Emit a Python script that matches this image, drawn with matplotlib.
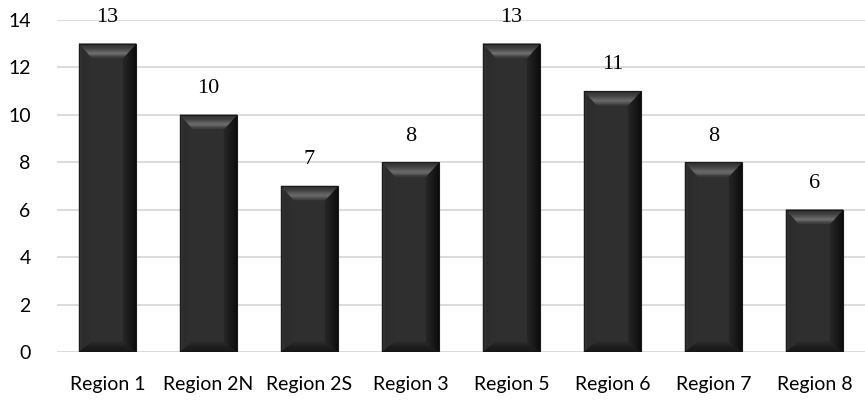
import numpy as np
import matplotlib
matplotlib.use('Agg')
import matplotlib.pyplot as plt
from matplotlib.patches import Polygon
from matplotlib.colors import to_rgb

regions = ['Region 1', 'Region 2N', 'Region 2S', 'Region 3', 'Region 5', 'Region 6', 'Region 7', 'Region 8']
counts = [13, 10, 7, 8, 13, 11, 8, 6]

fig = plt.figure(figsize=(8.65, 4), dpi=100)
ax = fig.add_axes([0.066, 0.12, 0.934, 0.83])

x = np.arange(len(regions))
bars = ax.bar(x, counts, width=0.565, color='#2f2f2f', zorder=2)

ax.set_xlim(-0.5, len(regions) - 0.5)
ax.set_ylim(0, 14)
ax.set_yticks(range(0, 15, 2))
ax.set_xticks(x)
ax.set_xticklabels(regions)
ax.yaxis.grid(True, color='#d9d9d9', linewidth=1.3, zorder=0)
ax.set_axisbelow(True)
for s in ax.spines.values():
    s.set_visible(False)
ax.tick_params(length=0, labelsize=14, colors='#000000')
ax.tick_params(axis='x', pad=17)
ax.tick_params(axis='y', pad=19)
for lab in ax.get_xticklabels() + ax.get_yticklabels():
    lab.set_family('Lato')


def lerp(p, q, t):
    return (p[0] + (q[0] - p[0]) * t, p[1] + (q[1] - p[1]) * t)


def bevel(o1, o2, i1, i2, stops, n=12):
    # fill the trapezoid outer edge (o1,o2) -> inner edge (i1,i2) in strips
    ts = np.linspace(0, 1, n + 1)
    pos = [s[0] for s in stops]
    cols = np.array([to_rgb(s[1]) for s in stops])
    for a, b in zip(ts[:-1], ts[1:]):
        m = (a + b) / 2
        c = [np.interp(m, pos, cols[:, k]) for k in range(3)]
        pts = [lerp(o1, i1, a), lerp(o2, i2, a), lerp(o2, i2, b), lerp(o1, i1, b)]
        ax.add_patch(Polygon(pts, color=c, zorder=3, lw=0.3, ec=c))


# bevel widths in pixels converted to data units
bb = ax.get_window_extent(renderer=fig.canvas.get_renderer())
ux = len(regions) / bb.width
uy = 14 / bb.height
for r in bars:
    x0, w, h = r.get_x(), r.get_width(), r.get_height()
    x1, y1 = x0 + w, h
    sx, st, sb = 13 * ux, 14 * uy, 10 * uy
    TL, TR, BL, BR = (x0, y1), (x1, y1), (x0, 0), (x1, 0)
    iTL, iTR = (x0 + sx, y1 - st), (x1 - sx, y1 - st)
    iBL, iBR = (x0 + sx, sb), (x1 - sx, sb)
    bevel(TL, BL, iTL, iBL, [(0, '#3a3a3a'), (0.3, '#2c2c2c'), (1, '#2f2f2f')])
    bevel(TR, BR, iTR, iBR, [(0, '#0c0c0c'), (0.5, '#171717'), (1, '#262626')])
    bevel(BL, BR, iBL, iBR, [(0, '#141414'), (0.6, '#1f1f1f'), (1, '#2a2a2a')])
    bevel(TL, TR, iTL, iTR, [(0, '#2e2e2e'), (0.35, '#444444'), (0.7, '#707070'),
                             (0.85, '#5a5a5a'), (1, '#363636')])
    ax.add_patch(plt.Rectangle((x0, 0), w, h, fill=False, ec='#1a1a1a', lw=0.8, zorder=5))
    ax.annotate(str(h), (x0 + w / 2, h), xytext=(0, 12), textcoords='offset points',
                ha='center', va='bottom', fontsize=16, family='Liberation Serif')

fig.savefig('out.png', dpi=100)
